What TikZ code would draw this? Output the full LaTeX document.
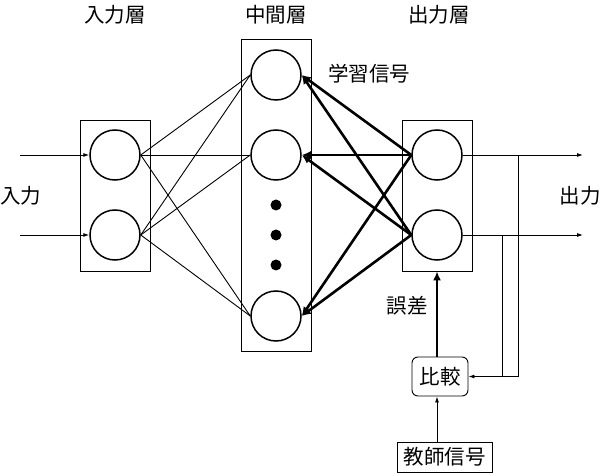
\documentclass[tikz,border=0pt]{standalone}
\usepackage{fontspec}
\setmainfont{Noto Sans CJK JP}
\usetikzlibrary{arrows.meta}
\begin{document}
\begin{tikzpicture}[x=1pt,y=-1pt,
  neuron/.style={circle,draw,line width=1.5pt,minimum size=50pt,inner sep=0pt},
  layerbox/.style={draw,line width=0.8pt,inner sep=0pt},
  thinline/.style={line width=0.9pt},
  thinarrow/.style={line width=0.9pt,-{Latex[length=6pt,width=4pt]}},
  thickarrow/.style={line width=2.6pt,-{Latex[length=9pt,width=8pt]}},
  lbl/.style={font=\fontsize{20.5}{20.5}\selectfont,inner sep=0pt},
  boxlbl/.style={font=\fontsize{20.5}{20.5}\selectfont,draw,line width=0.9pt,inner sep=0pt}]
\useasboundingbox (0,0) rectangle (600,473);
% layer boxes
\node[layerbox,minimum width=70pt,minimum height=151pt] (L1) at (115,195.5) {};
\node[layerbox,minimum width=70pt,minimum height=312pt] (L2) at (276,195) {};
\node[layerbox,minimum width=70pt,minimum height=151pt] (L3) at (437,195.5) {};
% neurons
\node[neuron] (i1) at (115,155) {};
\node[neuron] (i2) at (115,235) {};
\node[neuron] (h1) at (276,75) {};
\node[neuron] (h2) at (276,155) {};
\node[neuron] (h4) at (276,316) {};
\node[neuron] (o1) at (437,155) {};
\node[neuron] (o2) at (437,235) {};
% dots
\fill (276,205) circle (5.5);
\fill (276,235) circle (5.5);
\fill (276,265) circle (5.5);
% labels
\node[lbl] (t1) at (115,15) {入力層};
\node[lbl] (t2) at (276,15) {中間層};
\node[lbl] (t3) at (439,15) {出力層};
\node[lbl] (tin) at (21,196) {入力};
\node[lbl] (tout) at (580,196) {出力};
\node[lbl] (tlearn) at (369,74) {学習信号};
\node[lbl] (terr) at (407,306) {誤差};
% comparator and teacher
\node[boxlbl,rounded corners=6pt,minimum width=56pt,minimum height=39pt] (cmp) at (440,376.5) {比較};
\node[boxlbl,minimum width=95pt,minimum height=30pt] (teach) at (444.5,457) {教師信号};
% coordinates
\coordinate (in1) at (20,155);
\coordinate (in2) at (20,235);
\coordinate (out1) at (583,155);
\coordinate (out2) at (583,235);
\coordinate (j1) at (518,155);
\coordinate (j2) at (502,235);
% input arrows
\draw[thinarrow] (in1) -- (i1.west);
\draw[thinarrow] (in2) -- (i2.west);
% input -> hidden
\foreach \a in {i1,i2}{
  \foreach \b in {h1,h2,h4}{
    \draw[thinline] (\a.east) -- (\b.west);
  }
}
% learning signals
\foreach \a in {o1,o2}{
  \foreach \b in {h1,h2,h4}{
    \draw[thickarrow] (\a.west) -- (\b.east);
  }
}
% outputs
\draw[thinarrow] (o1.east) -- (out1);
\draw[thinarrow] (o2.east) -- (out2);
\draw[thinarrow] (j1) |- (cmp.east);
\draw[thinline] (j2) -- (j2 |- cmp.east);
% teacher -> comparator -> output layer
\draw[thinarrow] (teach.north -| o2) -- (cmp.south -| o2);
\draw[thickarrow] (cmp.north -| o2) -- (L3.south -| o2);
\end{tikzpicture}
\end{document}
